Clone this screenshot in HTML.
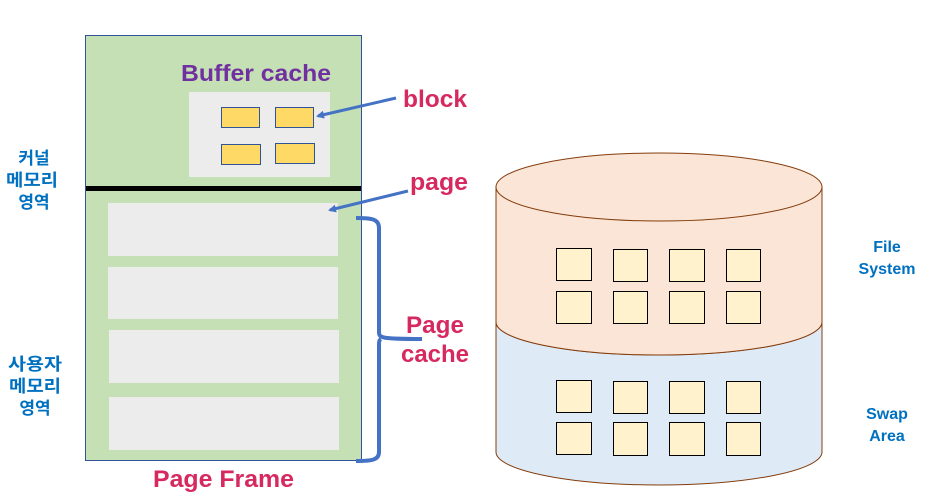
<!DOCTYPE html>
<html><head><meta charset="utf-8"><style>
html,body{margin:0;padding:0;background:#fff;width:949px;height:499px;overflow:hidden}
svg{display:block}
text{font-family:"Liberation Sans","Noto Sans CJK KR",sans-serif;font-weight:bold}
</style></head><body>
<svg width="949" height="499" viewBox="0 0 949 499" xmlns="http://www.w3.org/2000/svg">
<defs><marker id="ar" markerWidth="8" markerHeight="8" refX="6" refY="4" orient="auto" markerUnits="userSpaceOnUse"><path d="M0,0 L8,4 L0,8 z" fill="#4472c4"/></marker></defs>
<rect x="85.5" y="35.5" width="276" height="425" fill="#c5e0b4" stroke="#2f5597" stroke-width="1"/>
<rect x="86" y="186" width="275" height="5" fill="#000"/>
<rect x="189" y="92" width="141" height="85" fill="#ececec"/>
<g fill="#ffd966" stroke="#2f5597" stroke-width="1">
<rect x="221.5" y="107.5" width="38" height="20"/><rect x="275.5" y="107.5" width="38" height="20"/>
<rect x="221.5" y="144.5" width="39" height="20"/><rect x="275.5" y="143.5" width="39" height="20"/>
</g>
<g fill="#ececec">
<rect x="108" y="203" width="230" height="53"/><rect x="108" y="267" width="230" height="52"/>
<rect x="109" y="330" width="230" height="53"/><rect x="109" y="397" width="230" height="53"/>
</g>
<text x="181" y="81" font-size="23" fill="#7030a0" textLength="150" lengthAdjust="spacingAndGlyphs">Buffer cache</text>
<line x1="396" y1="98" x2="318" y2="116" stroke="#4472c4" stroke-width="3" marker-end="url(#ar)"/>
<line x1="408" y1="191" x2="330" y2="210" stroke="#4472c4" stroke-width="3" marker-end="url(#ar)"/>
<text x="403" y="107" font-size="24" fill="#d6295f" textLength="64" lengthAdjust="spacingAndGlyphs">block</text>
<text x="410" y="190" font-size="24" fill="#d6295f" textLength="58" lengthAdjust="spacingAndGlyphs">page</text>
<path d="M356,218 C372,218 379,219 379,228 L379,332 C379,338 381,339 422,339 M381,339 C379,340 379,342 379,346 L379,452 C379,460 372,461 356,461" fill="none" stroke="#4472c4" stroke-width="4"/>
<text x="406" y="333" font-size="24" fill="#d6295f" textLength="58" lengthAdjust="spacingAndGlyphs">Page</text>
<text x="401" y="362" font-size="24" fill="#d6295f" textLength="68" lengthAdjust="spacingAndGlyphs">cache</text>
<text x="153" y="487" font-size="24" fill="#d6295f" textLength="141" lengthAdjust="spacingAndGlyphs">Page Frame</text>
<g font-size="17" fill="#0070c0" text-anchor="middle">
<text x="34" y="164">커널</text><text x="32" y="186" textLength="52" lengthAdjust="spacingAndGlyphs">메모리</text><text x="34" y="208">영역</text>
<text x="35" y="370" textLength="54" lengthAdjust="spacingAndGlyphs">사용자</text><text x="35" y="392" textLength="52" lengthAdjust="spacingAndGlyphs">메모리</text><text x="35" y="414">영역</text>
</g>
<g font-size="16" fill="#0070c0" text-anchor="middle">
<text x="887" y="252">File</text><text x="887" y="274">System</text>
<text x="887" y="419">Swap</text><text x="887" y="441">Area</text>
</g>
<path d="M496,452 L496,322 A163,33 0 0 0 822,322 L822,452 A163,33 0 0 1 496,452 Z" fill="#deebf7" stroke="#843c0c" stroke-width="1"/>
<path d="M496,187 L496,322 A163,33 0 0 0 822,322 L822,187 Z" fill="#fbe5d6" stroke="#843c0c" stroke-width="1"/>
<ellipse cx="659" cy="187" rx="163" ry="34" fill="#fbe5d6" stroke="#843c0c" stroke-width="1"/>
<g fill="#fff2cc" stroke="#000" stroke-width="1">
<rect x="556.5" y="248.5" width="35" height="32"/><rect x="613.5" y="249.5" width="34" height="32"/><rect x="669.5" y="249.5" width="35" height="32"/><rect x="726.5" y="249.5" width="34" height="32"/>
<rect x="556.5" y="291.5" width="35" height="32"/><rect x="613.5" y="291.5" width="34" height="32"/><rect x="669.5" y="291.5" width="35" height="32"/><rect x="726.5" y="291.5" width="34" height="32"/>
<rect x="556.5" y="380.5" width="35" height="32"/><rect x="613.5" y="381.5" width="34" height="32"/><rect x="669.5" y="381.5" width="35" height="32"/><rect x="726.5" y="381.5" width="34" height="32"/>
<rect x="556.5" y="422.5" width="35" height="32"/><rect x="613.5" y="422.5" width="34" height="33"/><rect x="669.5" y="422.5" width="35" height="33"/><rect x="726.5" y="422.5" width="34" height="33"/>
</g>
</svg>
</body></html>
